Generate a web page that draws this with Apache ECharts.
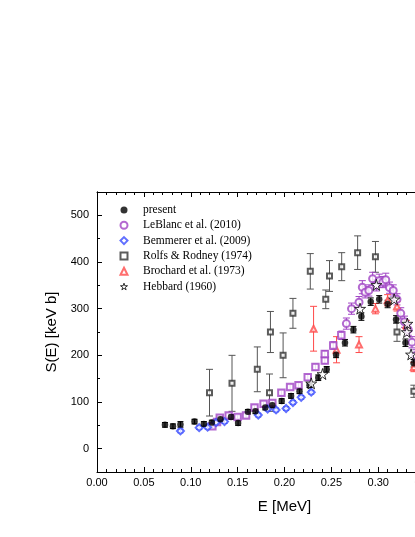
<!DOCTYPE html>
<html>
<head>
<meta charset="utf-8">
<script src="https://cdn.jsdelivr.net/npm/echarts@6/dist/echarts.min.js"></script>
<style>
html, body { margin: 0; padding: 0; background: #fff; }
#chart { width: 415px; height: 537px; }
</style>
</head>
<body>
<div id="chart"></div>
<script>
// present work
var presentE = [0.0725, 0.081, 0.089, 0.104, 0.114, 0.1225, 0.1317, 0.143, 0.1505, 0.161, 0.169, 0.1795, 0.187, 0.197, 0.207, 0.216, 0.2267, 0.236, 0.245, 0.255, 0.2645, 0.2735, 0.282, 0.292, 0.301, 0.31, 0.319, 0.329, 0.3377]
var presentS = [51, 48, 52, 58, 53, 56, 63, 68, 55, 79, 80, 88, 93, 102, 113, 123, 136, 152, 170, 201, 227, 255, 283, 315, 320, 310, 277, 227, 183]
var presentErr = [5, 5, 6, 5, 5, 5, 5, 5, 5, 5, 5, 5, 5, 5, 5, 5, 5, 6, 6, 6, 7, 7, 8, 8, 8, 8, 8, 8, 8]

// LeBlanc et al. (2010), low energy points drawn as squares
var leblancSqE = [0.123, 0.128, 0.131, 0.1405, 0.150, 0.159, 0.168, 0.1777, 0.187, 0.1967, 0.206, 0.215, 0.2248, 0.233, 0.243, 0.243, 0.252, 0.2606]
var leblancSqS = [48, 57, 66, 71, 68, 71, 88, 96, 98, 120, 132, 136, 153, 175, 189, 203, 221, 243]
var leblancSqErr = [4, 4, 4, 4, 4, 4, 5, 5, 5, 5, 5, 5, 6, 6, 7, 7, 8, 9]
// LeBlanc et al. (2010), resonance region drawn as circles
var leblancE = [0.266, 0.2715, 0.2795, 0.283, 0.286, 0.29, 0.294, 0.298, 0.301, 0.305, 0.308, 0.312, 0.316, 0.32, 0.324, 0.328, 0.332, 0.336, 0.34]
var leblancS = [268, 300, 314, 346, 335, 339, 364, 350, 360, 357, 362, 345, 339, 320, 290, 272, 255, 228, 200]
var leblancErr = [12, 12, 12, 14, 12, 12, 14, 12, 14, 12, 14, 12, 12, 12, 12, 12, 12, 12, 12]

// Bemmerer et al. (2009)
var bemmererE = [0.089, 0.109, 0.118, 0.127, 0.136, 0.172, 0.182, 0.191, 0.2017, 0.209, 0.2178, 0.2285]
var bemmererS = [38, 45, 46, 56, 58, 72, 85, 83, 86, 99, 110, 121]
var bemmererErr = [4, 4, 4, 4, 4, 4, 4, 4, 4, 4, 4, 4]

// Rolfs & Rodney (1974)
var rolfsE = [0.12, 0.144, 0.171, 0.184, 0.185, 0.1985, 0.209, 0.2275, 0.244, 0.248, 0.261, 0.278, 0.297, 0.32, 0.338]
var rolfsS = [120, 140, 170, 120, 250, 200, 290, 380, 320, 370, 390, 420, 411, 250, 123]
var rolfsErr = [50, 60, 48, 40, 44, 48, 32, 38, 20, 33, 30, 36, 33, 20, 13]

// Brochard et al. (1973)
var brochardE = [0.231, 0.2555, 0.2795, 0.297, 0.31, 0.32, 0.33, 0.338]
var brochardS = [257, 212, 223, 300, 318, 305, 265, 175]
var brochardErr = [48, 28, 17, 11, 12, 10, 10, 10]

// Hebbard (1960)
var hebbardE = [0.2285, 0.2406, 0.2806, 0.298, 0.317, 0.3305, 0.331, 0.335]
var hebbardS = [140, 160, 300, 351, 320, 250, 268, 202]

var yTicks = [0, 100, 200, 300, 400, 500]

var STAR = 'path://M50,0 L61,35 L98,35 L68,57 L79,91 L50,70 L21,91 L32,57 L2,35 L39,35 Z'
var PURPLE = '#a044c4'
var BLUE = '#3a4cff'
var RED = '#ff4a4a'

function zip(xs, ys, es) {
  return xs.map(function (x, i) { return es ? [x, ys[i], es[i]] : [x, ys[i]] })
}

function errorBars(name, xs, ys, es, color, cap) {
  return {
    type: 'custom',
    name: name,
    silent: true,
    z: 1,
    data: zip(xs, ys, es),
    encode: { x: 0, y: 1 },
    renderItem: function (params, api) {
      var x = api.value(0), y = api.value(1), e = api.value(2)
      var hi = api.coord([x, y + e])
      var lo = api.coord([x, y - e])
      var st = { stroke: color, lineWidth: 1, fill: null }
      return {
        type: 'group',
        children: [
          { type: 'line', shape: { x1: hi[0], y1: hi[1], x2: lo[0], y2: lo[1] }, style: st },
          { type: 'line', shape: { x1: hi[0] - cap, y1: hi[1], x2: hi[0] + cap, y2: hi[1] }, style: st },
          { type: 'line', shape: { x1: lo[0] - cap, y1: lo[1], x2: lo[0] + cap, y2: lo[1] }, style: st }
        ]
      }
    }
  }
}

var black = { color: '#000' }
var tickFont = { fontFamily: 'Liberation Sans', fontSize: 11, color: '#000' }

var chart = echarts.init(document.getElementById('chart'))
chart.setOption({
  animation: false,
  backgroundColor: '#fff',
  grid: { left: 97, top: 192, right: -57, height: 280, containLabel: false, outerBoundsMode: 'none' },
  legend: {
    orient: 'vertical',
    left: 119.5,
    top: 204,
    padding: 0,
    itemWidth: 7,
    itemHeight: 7,
    itemGap: 3.3,
    textStyle: { fontFamily: 'Liberation Serif', fontSize: 11.5, color: '#000', padding: [0, 0, 0, 10.5] },
    data: [
      'present',
      { name: 'LeBlanc et al. (2010)', itemStyle: { borderWidth: 0.8 } },
      { name: 'Bemmerer et al. (2009)', itemStyle: { borderWidth: 0.8 } },
      { name: 'Rolfs & Rodney (1974)', itemStyle: { borderWidth: 0.8 } },
      { name: 'Brochard et al. (1973)', itemStyle: { borderWidth: 0.8 } },
      { name: 'Hebbard (1960)', icon: STAR, itemStyle: { color: '#fff', borderColor: '#000', borderWidth: 1 } }
    ]
  },
  xAxis: [
    {
      type: 'value', min: 0, max: 0.4, interval: 0.05, position: 'bottom',
      name: 'E [MeV]', nameLocation: 'middle', nameGap: 27,
      nameTextStyle: { fontFamily: 'Liberation Sans', fontSize: 15, color: '#000' },
      axisLine: { onZero: false, lineStyle: black },
      axisTick: { inside: true, length: 5, lineStyle: black },
      minorTick: { show: true, splitNumber: 5, length: 3, lineStyle: black },
      splitLine: { show: false },
      axisLabel: Object.assign({ margin: 5, formatter: function (v) { return v.toFixed(2) } }, tickFont)
    },
    {
      type: 'value', min: 0, max: 0.4, interval: 0.05, position: 'top',
      axisLine: { onZero: false, lineStyle: black },
      axisTick: { inside: true, length: 5, lineStyle: black },
      minorTick: { show: true, splitNumber: 5, length: 3, lineStyle: black },
      splitLine: { show: false },
      axisLabel: { show: false }
    }
  ],
  yAxis: [
    {
      type: 'value', min: -50, max: 550, position: 'left',
      name: 'S(E) [keV b]', nameLocation: 'middle', nameGap: 38, nameRotate: 90,
      nameTextStyle: { fontFamily: 'Liberation Sans', fontSize: 15, color: '#000' },
      axisLine: { onZero: false, lineStyle: black },
      axisTick: { inside: true, length: 5, lineStyle: black, customValues: yTicks },
      splitLine: { show: false },
      axisLabel: Object.assign({ margin: 8, customValues: yTicks }, tickFont)
    },
    {
      type: 'value', min: -50, max: 550, interval: 50, position: 'left',
      axisLine: { onZero: false, lineStyle: black },
      axisTick: { inside: true, length: 3, lineStyle: black },
      splitLine: { show: false },
      axisLabel: { show: false }
    }
  ],
  series: [
    errorBars('rolfsErr', rolfsE, rolfsS, rolfsErr, '#555', 3.5),
    errorBars('brochardErr', brochardE, brochardS, brochardErr, RED, 3.5),
    errorBars('leblancSqErr', leblancSqE, leblancSqS, leblancSqErr, PURPLE, 3),
    errorBars('leblancErr', leblancE, leblancS, leblancErr, PURPLE, 3.5),
    errorBars('bemmererErr', bemmererE, bemmererS, bemmererErr, BLUE, 3),
    errorBars('presentErr', presentE, presentS, presentErr, '#000', 3),
    {
      name: 'Rolfs & Rodney (1974)', type: 'scatter', symbol: 'emptyRect', symbolSize: 5, z: 3,
      itemStyle: { color: '#333', borderWidth: 1 }, data: zip(rolfsE, rolfsS)
    },
    {
      name: 'Brochard et al. (1973)', type: 'scatter', symbol: 'emptyTriangle', symbolSize: 6, z: 3,
      itemStyle: { color: RED, borderWidth: 1 }, data: zip(brochardE, brochardS)
    },
    {
      name: 'LeBlanc sq', type: 'scatter', symbol: 'emptyRect', symbolSize: 6.5, z: 3,
      itemStyle: { color: PURPLE, borderWidth: 1 }, data: zip(leblancSqE, leblancSqS)
    },
    {
      name: 'LeBlanc et al. (2010)', type: 'scatter', symbol: 'emptyCircle', symbolSize: 7, z: 3,
      itemStyle: { color: PURPLE, borderWidth: 1 }, data: zip(leblancE, leblancS)
    },
    {
      name: 'Bemmerer et al. (2009)', type: 'scatter', symbol: 'emptyDiamond', symbolSize: 7, z: 3,
      itemStyle: { color: BLUE, borderWidth: 1 }, data: zip(bemmererE, bemmererS)
    },
    {
      name: 'present', type: 'scatter', symbol: 'circle', symbolSize: 6.5, z: 4,
      itemStyle: { color: '#000' }, data: zip(presentE, presentS)
    },
    {
      name: 'Hebbard (1960)', type: 'scatter', symbol: STAR, symbolSize: 11, z: 5,
      itemStyle: { color: '#fff', borderColor: '#000', borderWidth: 1 }, data: zip(hebbardE, hebbardS)
    }
  ]
})
</script>
</body>
</html>
